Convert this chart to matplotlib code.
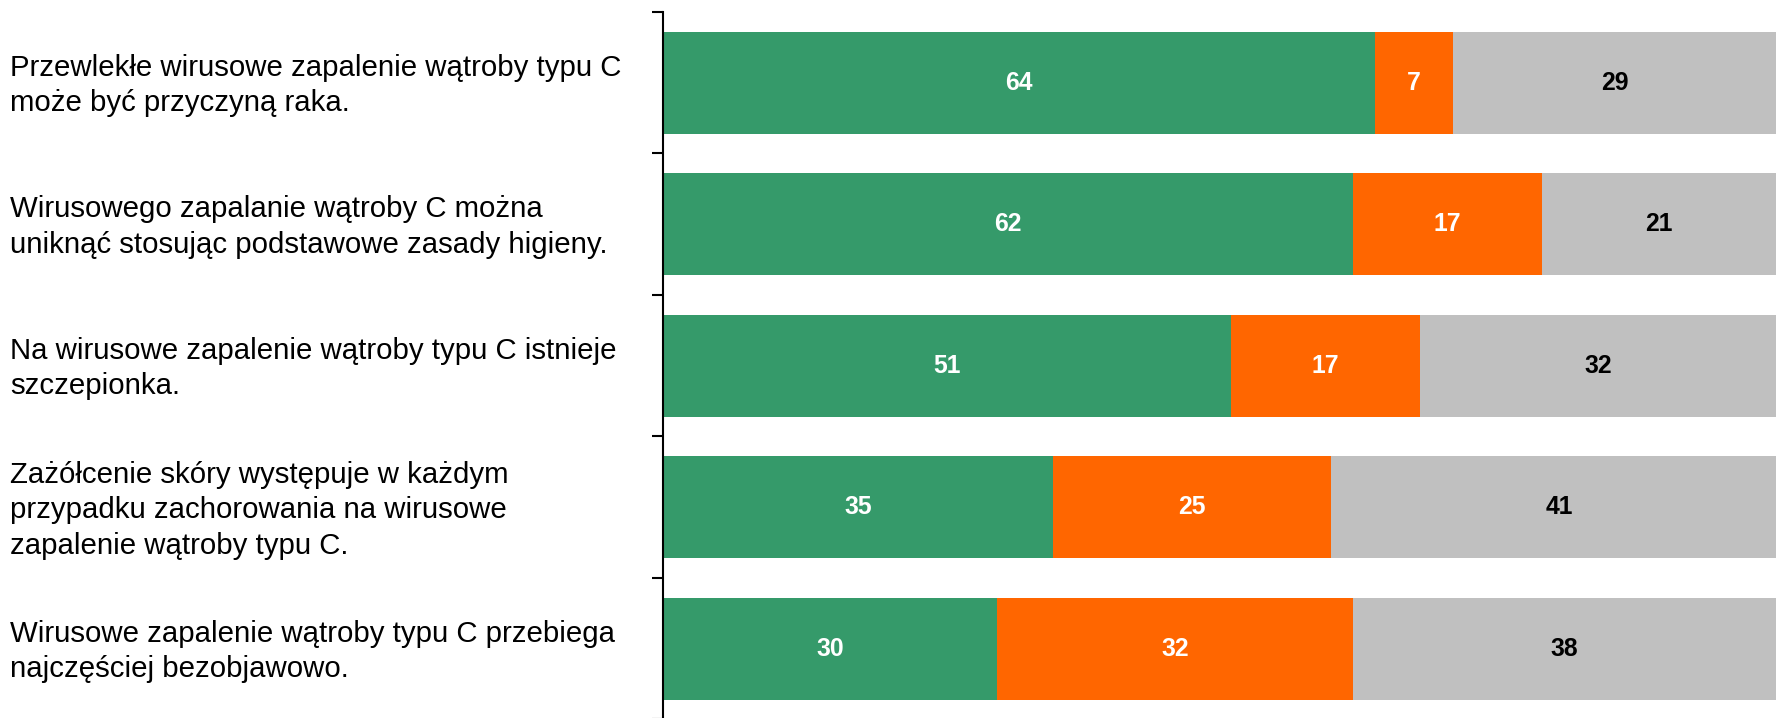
import matplotlib
matplotlib.use("Agg")
import matplotlib.pyplot as plt
from matplotlib.transforms import blended_transform_factory

categories = [
    "Przewlekłe wirusowe zapalenie wątroby typu C\nmoże być przyczyną raka.",
    "Wirusowego zapalanie wątroby C można\nuniknąć stosując podstawowe zasady higieny.",
    "Na wirusowe zapalenie wątroby typu C istnieje\nszczepionka.",
    "Zażółcenie skóry występuje w każdym\nprzypadku zachorowania na wirusowe\nzapalenie wątroby typu C.",
    "Wirusowe zapalenie wątroby typu C przebiega\nnajczęściej bezobjawowo.",
]
green_vals = [64, 62, 51, 35, 30]
orange_vals = [7, 17, 17, 25, 32]
gray_vals = [29, 21, 32, 41, 38]

series = [green_vals, orange_vals, gray_vals]
colors = ["#359A6A", "#FF6600", "#C0C0C0"]
label_colors = ["white", "white", "black"]

plt.rcParams['font.family'] = ['Liberation Sans', 'DejaVu Sans']

fig = plt.figure(figsize=(17.76, 7.18), dpi=100)
ax = fig.add_axes([663 / 1776, -0.002, 1 - 663 / 1776, (718 - 12) / 718 + 0.002])

n = len(categories)
ypos = list(range(n))
left = [0] * n
for vals, col, lcol in zip(series, colors, label_colors):
    ax.barh(ypos, vals, left=left, height=0.72, color=col, edgecolor='none')
    for y, v, l in zip(ypos, vals, left):
        ax.text(l + v / 2, y, str(v), ha='center', va='center', color=lcol,
                fontsize=17.8, fontweight='bold')
    left = [a + b for a, b in zip(left, vals)]

ax.set_xlim(0, 100)
ax.set_ylim(n - 0.5, -0.5)
ax.set_xticks([])
ax.set_yticks([i - 0.5 for i in range(n + 1)])
ax.set_yticklabels([])
ax.tick_params(axis='y', direction='out', length=8, width=1.5, color='black')
for s in ['top', 'right', 'bottom']:
    ax.spines[s].set_visible(False)
ax.spines['left'].set_linewidth(1.5)
ax.spines['left'].set_color('black')

trans = blended_transform_factory(fig.transFigure, ax.transData)
for y, lab in zip(ypos, categories):
    ax.text(10 / 1776, y + 0.02, lab, transform=trans, ha='left', va='center',
            fontsize=21.2, color='black', linespacing=1.34)

fig.savefig("out.png", dpi=100)
